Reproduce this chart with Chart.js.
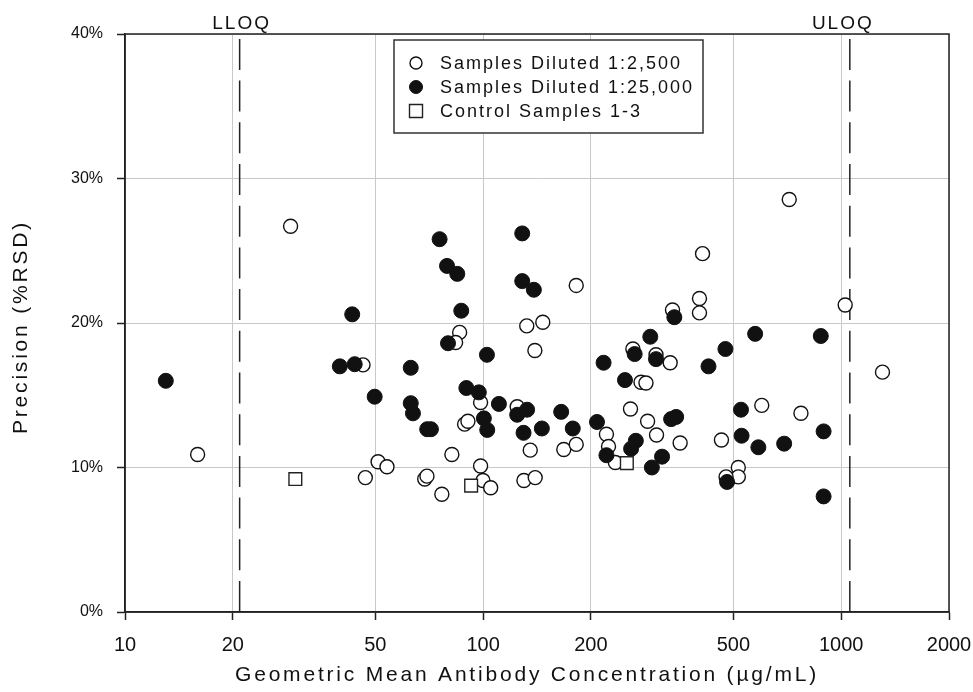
<!DOCTYPE html>
<html>
<head>
<meta charset="utf-8">
<script src="https://cdn.jsdelivr.net/npm/chart.js@4/dist/chart.umd.min.js"></script>
<style>
  html, body { margin: 0; padding: 0; background: #fff; }
  #chart { display: block; }
</style>
</head>
<body>
<canvas id="chart" width="973" height="692"></canvas>
<script>
// Samples diluted 1:2,500 (open circles)
const dil2500X = [15.95, 29.0, 46.2, 50.9, 53.9, 46.9, 86, 83.8, 132.4, 146.8, 139.5, 98.4, 88.8, 90.7,
  124.5, 135.4, 168, 182, 81.8, 98.4, 68.7, 69.7, 76.7, 99.9, 105, 130, 139.8, 182, 338, 716, 410, 402,
  402, 1026, 262, 304, 333, 276, 285, 258, 288, 305, 355, 221, 224, 234, 1304, 600, 772, 463, 516, 516, 477];
const dil2500Y = [10.9, 26.7, 17.1, 10.4, 10.05, 9.3, 19.35, 18.65, 19.8, 20.05, 18.1, 14.5, 13.0, 13.2,
  14.2, 11.2, 11.25, 11.6, 10.9, 10.1, 9.2, 9.4, 8.15, 9.1, 8.6, 9.1, 9.3, 22.6, 20.9, 28.55, 24.8, 21.7,
  20.7, 21.25, 18.2, 17.8, 17.25, 15.9, 15.85, 14.05, 13.2, 12.25, 11.7, 12.3, 11.45, 10.35, 16.6, 14.3,
  13.75, 11.9, 10.0, 9.35, 9.35];

// Samples diluted 1:25,000 (filled circles)
const dil25000X = [13.0, 43.1, 39.8, 43.8, 49.8, 75.6, 79.3, 84.7, 86.9, 128.6, 128.6, 138.6, 342, 79.8,
  102.5, 62.8, 89.8, 97.3, 110.7, 62.8, 63.7, 69.8, 71.5, 100.5, 102.7, 124.5, 132.7, 129.7, 145.9, 165.2,
  178, 217, 265, 293, 304, 249, 335, 346, 208, 221, 259, 267, 296, 316, 575, 877, 475, 426, 525, 893, 527,
  587, 693, 480, 893];
const dil25000Y = [16.0, 20.6, 17.0, 17.15, 14.9, 25.8, 23.95, 23.4, 20.85, 26.2, 22.9, 22.3, 20.4, 18.6,
  17.8, 16.9, 15.5, 15.2, 14.4, 14.45, 13.75, 12.65, 12.65, 13.4, 12.6, 13.65, 14.0, 12.4, 12.7, 13.85,
  12.7, 17.25, 17.85, 19.05, 17.5, 16.05, 13.35, 13.5, 13.15, 10.85, 11.3, 11.85, 10.0, 10.75, 19.25,
  19.1, 18.2, 17.0, 14.0, 12.5, 12.2, 11.4, 11.65, 9.0, 8.0];

// Control samples 1-3 (open squares)
const controlX = [29.9, 92.6, 252];
const controlY = [9.2, 8.75, 10.3];

// quantitation limits
const lloqX = 20.9;
const uloqX = 1057;
const limitLabels = ['LLOQ', 'ULOQ'];

const xTicks = [10, 20, 50, 100, 200, 500, 1000, 2000];
const yTicks = [0, 10, 20, 30, 40];

const seriesNames = ['Samples Diluted 1:2,500', 'Samples Diluted 1:25,000', 'Control Samples 1-3'];

const FONT = '"Liberation Sans", Arial, sans-serif';
const INK = '#111';

function toPoints(xs, ys) {
    return xs.map((x, i) => ({ x: x, y: ys[i] }));
}

function limitLine(x) {
    return {
        type: 'line',
        data: [{ x: x, y: 0 }, { x: x, y: 40 }],
        borderColor: '#222',
        borderWidth: 1.5,
        borderDash: [31, 10.7],
        pointRadius: 0,
        fill: false,
        order: 10
    };
}

const openStyle = { pointStyle: 'circle', pointRadius: 7, backgroundColor: '#fff', borderColor: INK, borderWidth: 1.4 };
const fullStyle = { pointStyle: 'circle', pointRadius: 7.5, backgroundColor: INK, borderColor: INK, borderWidth: 1 };
const rectStyle = { pointStyle: 'rect', pointRadius: 9, backgroundColor: '#fff', borderColor: '#222', borderWidth: 1.4 };

// frame, legend box, limit labels and axis titles
const decorPlugin = {
    id: 'decor',
    afterDraw(chart) {
        const ctx = chart.ctx;
        const a = chart.chartArea;
        const xs = chart.scales.x;
        ctx.save();
        ctx.strokeStyle = '#222';
        ctx.lineWidth = 1.5;
        ctx.strokeRect(a.left, a.top, a.right - a.left, a.bottom - a.top);

        // LLOQ / ULOQ labels
        ctx.letterSpacing = '2px';
        ctx.fillStyle = INK;
        ctx.font = '19px ' + FONT;
        ctx.textAlign = 'center';
        ctx.textBaseline = 'alphabetic';
        ctx.fillText(limitLabels[0], xs.getPixelForValue(lloqX) + 2, 29);
        ctx.fillText(limitLabels[1], xs.getPixelForValue(uloqX) - 7, 29);

        // legend
        const bx = 394, by = 40, bw = 309, bh = 93;
        ctx.fillStyle = '#fff';
        ctx.fillRect(bx, by, bw, bh);
        ctx.strokeStyle = '#333';
        ctx.lineWidth = 1.5;
        ctx.strokeRect(bx, by, bw, bh);
        const styles = [openStyle, fullStyle, rectStyle];
        const rowY = [63, 87, 111];
        ctx.font = '18px ' + FONT;
        ctx.textAlign = 'left';
        ctx.textBaseline = 'middle';
        styles.forEach((st, i) => {
            ctx.save();
            ctx.fillStyle = st.backgroundColor;
            ctx.strokeStyle = st.borderColor;
            ctx.lineWidth = st.borderWidth;
            const r = st.pointStyle === 'rect' ? 6.5 : (i === 1 ? 6.5 : 6);
            ctx.beginPath();
            if (st.pointStyle === 'rect') {
                ctx.rect(416 - r, rowY[i] - r, 2 * r, 2 * r);
            } else {
                ctx.arc(416, rowY[i], r, 0, Math.PI * 2);
            }
            ctx.fill();
            ctx.stroke();
            ctx.restore();
            ctx.fillStyle = INK;
            ctx.fillText(seriesNames[i], 440, rowY[i] + 1);
        });

        // axis titles
        ctx.letterSpacing = '2.8px';
        ctx.font = '21px ' + FONT;
        ctx.fillStyle = INK;
        ctx.textAlign = 'center';
        ctx.textBaseline = 'middle';
        ctx.fillText('Geometric Mean Antibody Concentration (\u00b5g/mL)', 527, 675);
        ctx.translate(21, 327);
        ctx.rotate(-Math.PI / 2);
        ctx.fillText('Precision (%RSD)', 0, 0);
        ctx.restore();
    }
};

new Chart(document.getElementById('chart'), {
    type: 'scatter',
    data: {
        datasets: [
            Object.assign({ label: seriesNames[0], data: toPoints(dil2500X, dil2500Y), order: 3 }, openStyle),
            Object.assign({ label: seriesNames[1], data: toPoints(dil25000X, dil25000Y), order: 2 }, fullStyle),
            Object.assign({ label: seriesNames[2], data: toPoints(controlX, controlY), order: 1 }, rectStyle),
            limitLine(lloqX),
            limitLine(uloqX)
        ]
    },
    options: {
        responsive: false,
        animation: false,
        layout: { padding: { left: 0, right: 24, top: 34, bottom: 0 } },
        plugins: {
            legend: { display: false },
            tooltip: { enabled: false }
        },
        scales: {
            x: {
                type: 'logarithmic',
                min: 10,
                max: 2000,
                afterBuildTicks: function(scale) {
                    scale.ticks = xTicks.map(v => ({ value: v }));
                },
                afterFit: function(scale) {
                    scale.height = 80;
                    // let the layout padding alone decide the plot edges
                    scale.paddingLeft = 0;
                    scale.paddingRight = 0;
                },
                grid: { color: '#c8c8c8', lineWidth: 1, tickColor: '#222', tickLength: 8, tickWidth: 1.5 },
                border: { color: '#222', width: 1.5 },
                ticks: {
                    autoSkip: false,
                    maxRotation: 0,
                    padding: 13,
                    color: INK,
                    font: { family: FONT, size: 20 },
                    callback: function(v) { return xTicks.includes(v) ? String(v) : ''; }
                }
            },
            y: {
                min: 0,
                max: 40,
                afterBuildTicks: function(scale) {
                    scale.ticks = yTicks.map(v => ({ value: v }));
                },
                afterFit: function(scale) {
                    scale.width = 125;
                    scale.paddingTop = 0;
                    scale.paddingBottom = 0;
                },
                grid: { color: '#c8c8c8', lineWidth: 1, tickColor: '#222', tickLength: 8, tickWidth: 1.5 },
                border: { color: '#222', width: 1.5 },
                ticks: {
                    padding: 14,
                    color: INK,
                    font: { family: FONT, size: 16 },
                    callback: function(v) { return v + '%'; }
                }
            }
        }
    },
    plugins: [decorPlugin]
});
</script>
</body>
</html>
